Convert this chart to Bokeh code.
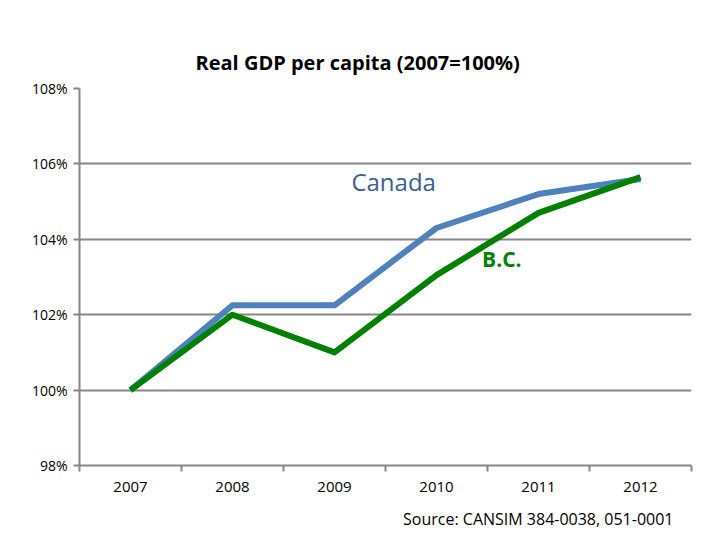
from bokeh.plotting import figure
from bokeh.models import FixedTicker, Range1d, Label, Title
from bokeh.embed import file_html
from bokeh.resources import INLINE

years = [2007, 2008, 2009, 2010, 2011, 2012]
canada = [100.0, 102.25, 102.25, 104.3, 105.2, 105.6]
bc = [100.0, 102.0, 101.0, 103.05, 104.7, 105.65]
y_ticks = [98, 100, 102, 104, 106, 108]

GRID = "#868686"

p = figure(width=712, height=540, output_backend="svg", toolbar_location=None,
           x_range=Range1d(years[0] - 0.5, years[-1] + 0.5),
           y_range=Range1d(y_ticks[0], y_ticks[-1]),
           min_border_left=79, min_border_right=21, min_border_bottom=75, min_border_top=88)
p.outline_line_color = None
p.background_fill_color = "white"
p.border_fill_color = "white"

p.title.text = "Real GDP per capita (2007=100%)"
p.title.align = "left"
p.title.offset = 116
p.title.standoff = 22
p.title.vertical_align = "top"
p.title.text_font = "Open Sans"
p.title.text_font_size = "20px"
p.title.text_font_style = "bold"
p.title.text_color = "#000000"

p.add_layout(Title(text="Source: CANSIM 384-0038, 051-0001", align="right", offset=18,
                   text_font="Open Sans", text_font_size="16px", text_font_style="normal",
                   text_color="#000000", standoff=22), "below")

p.line(years, canada, line_color="#4F81BD", line_width=6, line_join="round")
p.line(years, bc, line_color="#008000", line_width=6, line_join="round")

# axes
xa = p.xaxis[0]
xa.ticker = FixedTicker(ticks=years, minor_ticks=[y - 0.5 for y in years] + [years[-1] + 0.5])
xa.major_tick_line_color = None
xa.minor_tick_line_color = GRID
xa.minor_tick_line_width = 2
xa.minor_tick_out = 6
xa.minor_tick_in = 0
xa.axis_line_color = GRID
xa.axis_line_width = 2
xa.major_label_text_font = "Open Sans"
xa.major_label_text_font_size = "15px"
xa.major_label_text_color = "#000000"
xa.major_label_standoff = 10

ya = p.yaxis[0]
ya.ticker = FixedTicker(ticks=y_ticks)
ya.major_label_overrides = {t: f"{t}%" for t in y_ticks}
ya.major_tick_line_color = GRID
ya.major_tick_line_width = 2
ya.major_tick_out = 6
ya.major_tick_in = 0
ya.minor_tick_line_color = None
ya.axis_line_color = GRID
ya.axis_line_width = 2
ya.major_label_text_font = "Open Sans"
ya.major_label_text_font_size = "14px"
ya.major_label_text_color = "#000000"
ya.major_label_standoff = 6

p.xgrid.grid_line_color = None
p.ygrid.grid_line_color = GRID
p.ygrid.grid_line_width = 2

p.add_layout(Label(x=2009.58, y=105.53, text="Canada", text_align="center", text_baseline="middle",
                   text_font="Open Sans", text_font_size="24px", text_color="#376092"))
p.add_layout(Label(x=2010.64, y=103.49, text="B.C.", text_align="center", text_baseline="middle",
                   text_font="Open Sans", text_font_size="21px", text_font_style="bold",
                   text_color="#008000"))

open("out.html", "w").write(file_html(p, INLINE))
